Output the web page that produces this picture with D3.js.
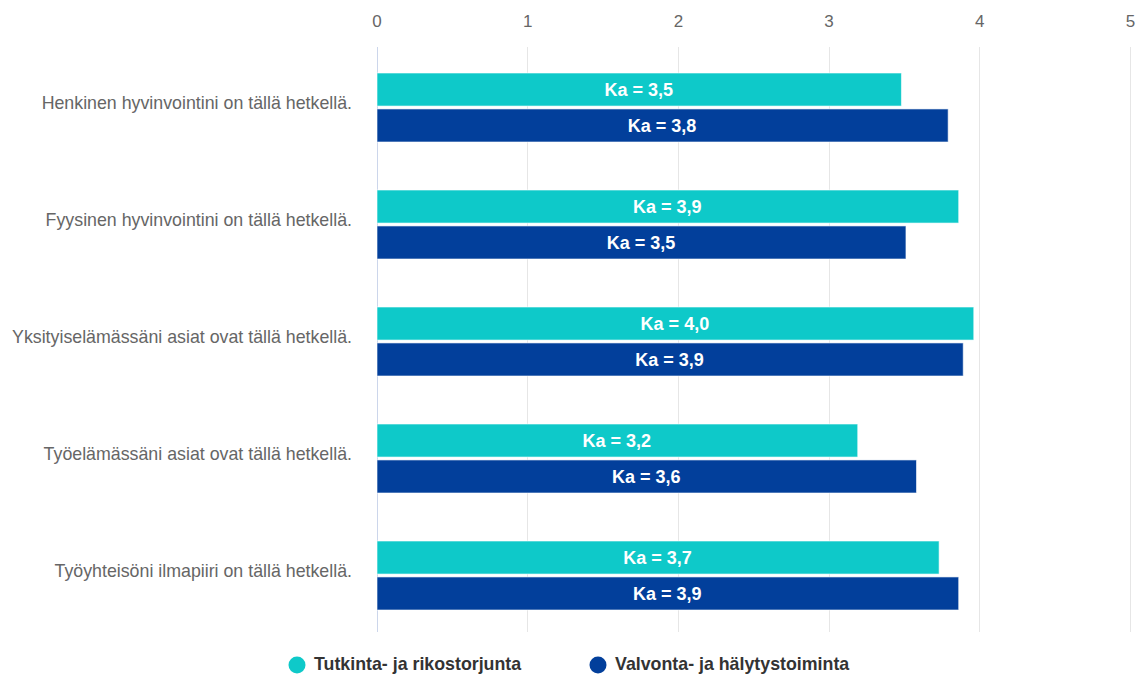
<!DOCTYPE html>
<html><head><meta charset="utf-8">
<script src="https://cdn.jsdelivr.net/npm/d3@7"></script>
<style>body{margin:0;background:#fff;}svg{display:block;font-family:"Liberation Sans",Arial,sans-serif;}</style>
</head><body>
<svg id="c" width="1135" height="674"></svg>
<script>
const categories = [
  "Henkinen hyvinvointini on tällä hetkellä.",
  "Fyysinen hyvinvointini on tällä hetkellä.",
  "Yksityiselämässäni asiat ovat tällä hetkellä.",
  "Työelämässäni asiat ovat tällä hetkellä.",
  "Työyhteisöni ilmapiiri on tällä hetkellä."
];
const seriesNames = ["Tutkinta- ja rikostorjunta", "Valvonta- ja hälytystoiminta"];
const tutkinta = [3.48, 3.86, 3.96, 3.19, 3.73];
const valvonta = [3.79, 3.51, 3.89, 3.58, 3.86];
const xTicks = [0, 1, 2, 3, 4, 5];
const colors = ["#0ec9c9", "#023f9b"];

(function () {
const svg = d3.select("#c");
const pLeft = 376.5, pRight = 1130, pTop = 47, pBottom = 632;
const x = d3.scaleLinear().domain([0, 5]).range([pLeft, pRight]);
const y = d3.scaleBand().domain(categories).range([pTop, pBottom]).paddingInner(0).paddingOuter(0);
const inner = d3.scaleBand().domain([0, 1]).range([26, y.bandwidth() - 22]).paddingInner(0.08);

// grid
svg.append("g").selectAll("line").data(xTicks.slice(1)).join("line")
  .attr("x1", d => Math.round(x(d)) + 0.5).attr("x2", d => Math.round(x(d)) + 0.5)
  .attr("y1", pTop).attr("y2", pBottom)
  .attr("stroke", "#e6e6e6").attr("stroke-width", 1);
svg.append("line").attr("x1", Math.round(x(0)) + 0.5).attr("x2", Math.round(x(0)) + 0.5)
  .attr("y1", pTop).attr("y2", pBottom).attr("stroke", "#ccd6eb");

// top axis labels
const xAxis = d3.axisTop(x).tickValues(xTicks).tickSize(0).tickPadding(0).tickFormat(d3.format("d"));
const gx = svg.append("g").attr("transform", "translate(0,27)").call(xAxis);
gx.select(".domain").remove();
gx.selectAll("text").attr("fill", "#666").attr("font-size", 17).attr("font-family", "Liberation Sans, Arial, sans-serif").attr("dy", 0);

// category labels
const yAxis = d3.axisLeft(y).tickSize(0).tickPadding(0);
const gy = svg.append("g").attr("transform", "translate(352,-2)").call(yAxis);
gy.select(".domain").remove();
gy.selectAll("text").attr("fill", "#666").attr("font-size", 17.8).attr("font-family", "Liberation Sans, Arial, sans-serif");

const fmt = v => "Ka = " + d3.format(".1f")(v).replace(".", ",");
const data = [];
categories.forEach((c, i) => {
  data.push({c, s: 0, v: tutkinta[i]});
  data.push({c, s: 1, v: valvonta[i]});
});
const bars = svg.append("g");
bars.selectAll("rect").data(data).join("rect")
  .attr("x", x(0) + 0.5)
  .attr("y", d => y(d.c) + inner(d.s))
  .attr("width", d => x(d.v) - x(0))
  .attr("height", inner.bandwidth())
  .attr("fill", d => colors[d.s])
  .attr("stroke", "#fff").attr("stroke-opacity", 0.6).attr("stroke-width", 1);
bars.selectAll("text").data(data).join("text")
  .attr("x", d => (x(0) + x(d.v)) / 2)
  .attr("y", d => y(d.c) + inner(d.s) + inner.bandwidth() / 2)
  .attr("dy", "0.35em")
  .attr("text-anchor", "middle")
  .attr("fill", "#fff").attr("font-size", 18).attr("font-weight", 600)
  .text(d => fmt(d.v));

// legend
const legX = [297, 598];
const leg = svg.append("g").selectAll("g").data(seriesNames).join("g")
  .attr("transform", (d, i) => `translate(${legX[i]},665)`);
leg.append("circle").attr("r", 8.5).attr("fill", (d, i) => colors[i]);
leg.append("text").attr("x", 17).attr("y", 4.8).attr("fill", "#333")
  .attr("font-size", 17.8).attr("font-weight", "bold").text(d => d);
})();
</script>
</body></html>
